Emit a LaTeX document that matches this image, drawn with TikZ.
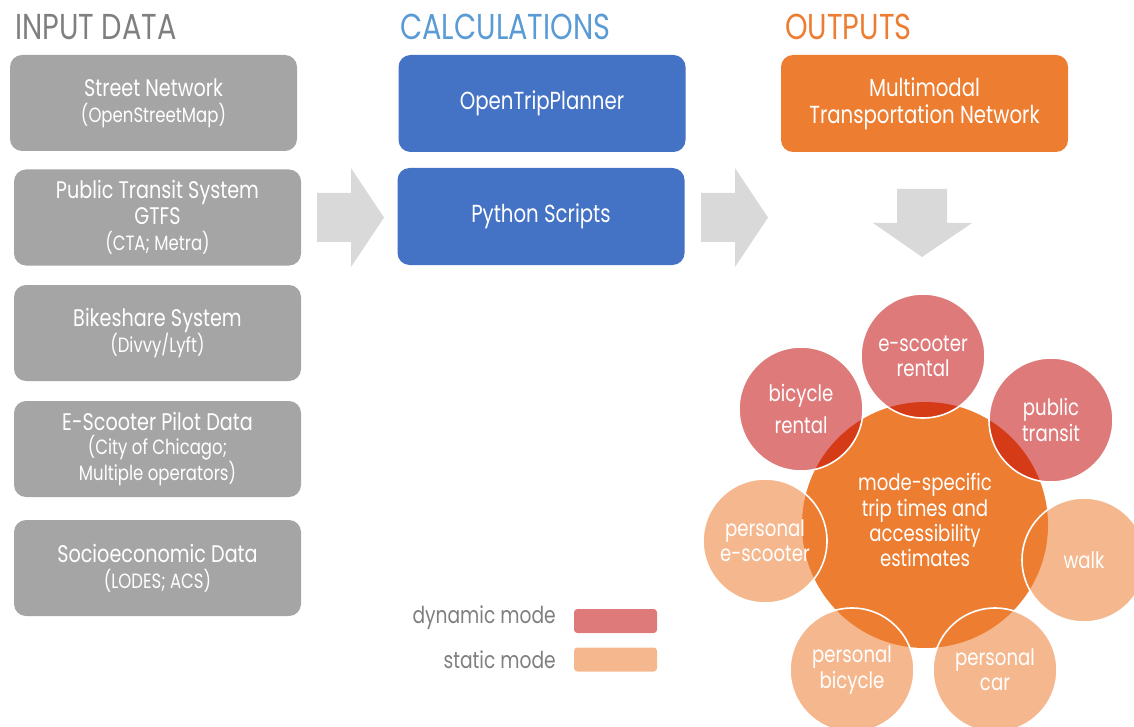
\documentclass[tikz,border=0pt]{standalone}
\usepackage{fontspec}
\setmainfont{Poppins}[FakeStretch=0.8]
\definecolor{boxgray}{HTML}{A5A5A5}
\definecolor{arrowgray}{HTML}{D9D9D9}
\definecolor{calcblue}{HTML}{4472C4}
\definecolor{outorange}{HTML}{ED7D31}
\definecolor{headgray}{HTML}{7F7F7F}
\definecolor{headblue}{HTML}{5B9BD5}
\definecolor{dynred}{HTML}{C00000}
\newcommand\fz[2]{\fontsize{#1}{#2}\selectfont}
\newcommand\subl{\fz{15.5}{19.5}}
\begin{document}
\begin{tikzpicture}[x=0.75pt,y=-0.75pt,
  heading/.style={anchor=base west,inner sep=0pt,font=\fz{27}{30}},
  box/.style={rectangle,rounded corners=9pt,draw=none,text=white,align=center,
    minimum width={287*0.75pt},minimum height={96*0.75pt},inner sep=0pt,font=\fz{18}{19.5}},
  inbox/.style={box,fill=boxgray},
  calcbox/.style={box,fill=calcblue,minimum height={97*0.75pt},font=\fz{18.5}{20}},
  outbox/.style={box,fill=outorange,minimum height={97*0.75pt},font=\fz{18.5}{20}},
  blockarrow/.style={fill=arrowgray,draw=none},
  mode/.style={circle,minimum size={124*0.75pt},inner sep=0pt,draw=white,line width=1.2pt,
    fill opacity=0.52,text opacity=1,text=white,align=center,font=\fz{17}{19}},
  dynmode/.style={mode,fill=dynred},
  statmode/.style={mode,fill=outorange,fill opacity=0.55},
  legtext/.style={anchor=east,inner sep=0pt,text=headgray,font=\fz{17.5}{19}},
  legbox/.style={rectangle,rounded corners=2.5pt,minimum width={83*0.75pt},minimum height={24*0.75pt},inner sep=0pt}
]
\useasboundingbox (0,0) rectangle (1134,727);

% headings
\node[heading,text=headgray] (h1) at (15,40) {INPUT DATA};
\node[heading,text=headblue] (h2) at (400,40) {CALCULATIONS};
\node[heading,text=outorange] (h3) at (785,40) {OUTPUTS};

% input boxes
\node[inbox] (street) at (153.5,103) {Street Network\\\subl(OpenStreetMap)};
\node[inbox] (transit) at (157.5,217.5) {Public Transit System\\GTFS\\\subl(CTA; Metra)};
\node[inbox] (bike) at (157.5,333) {Bikeshare System\\\subl(Divvy/Lyft)};
\node[inbox,font=\fz{18}{18}] (scoot) at (157.5,449) {E-Scooter Pilot Data\\\subl(City of Chicago;\\\subl Multiple operators)};
\node[inbox] (socio) at (157.5,568) {Socioeconomic Data\\\subl(LODES; ACS)};

% calculation boxes
\node[calcbox] (otp) at (542,103.5) {OpenTripPlanner};
\node[calcbox] (py) at (541,216.5) {Python Scripts};

% output box
\node[outbox] (net) at (924.5,103.5) {Multimodal\\Transportation Network};

% block arrows
\fill[blockarrow] (317,193) -- (351,193) -- (351,168) -- (384,217.5) -- (351,267) -- (351,242) -- (317,242) -- cycle;
\fill[blockarrow] (701,193) -- (735,193) -- (735,168) -- (768,217.5) -- (735,267) -- (735,242) -- (701,242) -- cycle;
\fill[blockarrow] (897,189) -- (947,189) -- (947,223) -- (972,223) -- (922,257) -- (873,223) -- (897,223) -- cycle;

% mode circles
\begin{scope}
\clip (0,0) rectangle (1134,727);
\node[circle,fill=outorange,minimum size={246*0.75pt},inner sep=0pt] (est) at (925,525) {};
\node[text=white,align=center,font=\fz{17}{18.8},inner sep=0pt] (estlbl) at (925,520)
  {mode-specific\\trip times and\\accessibility\\estimates};
\node[dynmode] (esr) at (923,356) {e-scooter\\rental};
\node[dynmode] (bkr) at (801,409) {bicycle\\[5pt]rental};
\node[dynmode] (pt) at (1051,420) {public\\transit};
\node[statmode] (pes) at (765,541) {personal\\e-scooter};
\node[statmode] (walk) at (1084,560) {walk};
\node[statmode] (pb) at (852,670) {personal\\bicycle};
\node[statmode] (pc) at (995,670) {personal\\car};
\end{scope}

% legend
\node[legtext] (ldyn) at (556,618) {dynamic mode};
\node[legtext] (lstat) at (556,660) {static mode};
\node[legbox,fill=dynred,fill opacity=0.52] (bdyn) at (615.5,621) {};
\node[legbox,fill=outorange,fill opacity=0.55] (bstat) at (615.5,659.5) {};
\end{tikzpicture}
\end{document}
